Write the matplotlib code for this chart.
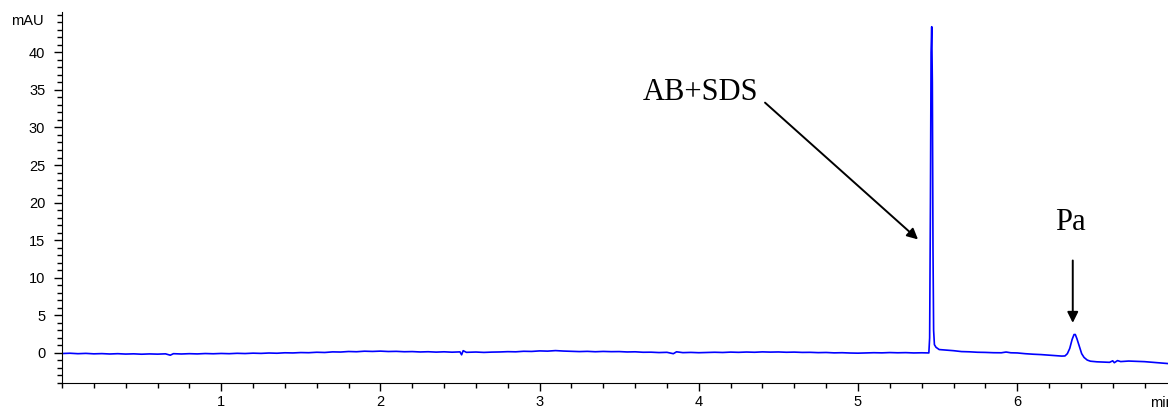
import matplotlib.pyplot as plt
from matplotlib.ticker import MultipleLocator

# chromatogram trace: time (min), absorbance (mAU)
times = [
    0.00, 0.05, 0.10, 0.15, 0.20, 0.25, 0.30, 0.35, 0.40, 0.45,
    0.50, 0.55, 0.60, 0.65, 0.68, 0.70, 0.75, 0.80, 0.85, 0.90,
    0.95, 1.00, 1.05, 1.10, 1.15, 1.20, 1.25, 1.30, 1.35, 1.40,
    1.45, 1.50, 1.55, 1.60, 1.65, 1.70, 1.75, 1.80, 1.85, 1.90,
    1.95, 2.00, 2.05, 2.10, 2.15, 2.20, 2.25, 2.30, 2.35, 2.40,
    2.45, 2.50, 2.51, 2.52, 2.54, 2.60, 2.65, 2.70, 2.75, 2.80,
    2.85, 2.90, 2.95, 3.00, 3.05, 3.10, 3.15, 3.20, 3.25, 3.30,
    3.35, 3.40, 3.45, 3.50, 3.55, 3.60, 3.65, 3.70, 3.75, 3.80,
    3.84, 3.86, 3.90, 3.95, 4.00, 4.05, 4.10, 4.15, 4.20, 4.25,
    4.30, 4.35, 4.40, 4.45, 4.50, 4.55, 4.60, 4.65, 4.70, 4.75,
    4.80, 4.85, 4.90, 4.95, 5.00, 5.05, 5.10, 5.15, 5.20, 5.25,
    5.30, 5.35, 5.40, 5.445,
    5.450, 5.455, 5.459, 5.463, 5.467, 5.471, 5.475, 5.480, 5.490, 5.51,
    5.55, 5.60, 5.65, 5.70, 5.75, 5.80, 5.85, 5.90, 5.93, 5.96,
    6.00, 6.05, 6.10, 6.15, 6.20, 6.25, 6.28, 6.30, 6.315, 6.33,
    6.345, 6.357, 6.365, 6.375, 6.39, 6.405, 6.42, 6.44, 6.46, 6.50,
    6.55, 6.58, 6.60, 6.61, 6.63, 6.65, 6.70, 6.75, 6.80, 6.85,
    6.90, 6.95, 7.00,
]
mau = [
    -0.08, -0.04, -0.10, -0.06, -0.12, -0.09, -0.14, -0.10, -0.15, -0.12,
    -0.17, -0.13, -0.16, -0.12, -0.30, -0.10, -0.14, -0.10, -0.13, -0.08,
    -0.11, -0.07, -0.10, -0.05, -0.08, -0.03, -0.06, -0.01, -0.04, 0.02,
    0.00, 0.05, 0.03, 0.09, 0.06, 0.14, 0.12, 0.19, 0.16, 0.23,
    0.20, 0.24, 0.19, 0.21, 0.16, 0.18, 0.13, 0.16, 0.11, 0.15,
    0.10, 0.14, -0.25, 0.30, 0.08, 0.12, 0.07, 0.11, 0.13, 0.17,
    0.15, 0.22, 0.20, 0.27, 0.24, 0.31, 0.25, 0.22, 0.18, 0.21,
    0.16, 0.20, 0.17, 0.18, 0.13, 0.15, 0.09, 0.10, 0.05, 0.08,
    -0.10, 0.15, 0.04, 0.07, 0.03, 0.06, 0.09, 0.06, 0.11, 0.08,
    0.12, 0.09, 0.14, 0.11, 0.13, 0.09, 0.11, 0.07, 0.08, 0.04,
    0.06, 0.01, 0.03, -0.01, -0.03, 0.00, 0.03, 0.01, 0.05, 0.02,
    0.04, 0.00, 0.02, 0.00,
    2.0, 20.0, 40.0, 43.4, 36.0, 14.0, 3.0, 1.1, 0.75, 0.45,
    0.38, 0.30, 0.18, 0.15, 0.09, 0.07, 0.03, 0.02, 0.12, 0.02,
    0.00, -0.10, -0.17, -0.22, -0.30, -0.38, -0.42, -0.40, -0.10, 0.60,
    1.80, 2.45, 2.45, 1.90, 0.90, -0.10, -0.60, -0.95, -1.10, -1.18,
    -1.22, -1.25, -1.05, -1.30, -1.02, -1.15, -1.08, -1.12, -1.16, -1.25,
    -1.33, -1.42, -1.48,
]

# peak labels: text, text anchor, arrow tail, arrow tip
peak_labels = ["AB+SDS", "Pa"]
label_xy = [(4.372, 34.6), (6.335, 17.4)]
label_ha = ["right", "center"]
arrow_tail = [(4.416, 33.3), (6.349, 12.3)]
arrow_tip = [(5.377, 15.1), (6.349, 4.0)]

fig = plt.figure(figsize=(11.68, 4.09), dpi=100)
ax = fig.add_axes([62 / 1168, 26 / 409, 1114.4 / 1168, 371.3 / 409])

ax.plot(times, mau, color="#0000ff", linewidth=1.2)

ax.set_xlim(0, 7.0)
ax.set_ylim(-4.0, 45.4)

ax.spines["top"].set_visible(False)
ax.spines["right"].set_visible(False)

ax.xaxis.set_minor_locator(MultipleLocator(0.2))
ax.yaxis.set_minor_locator(MultipleLocator(1))
ax.set_xticks([1, 2, 3, 4, 5, 6])
ax.set_yticks([0, 5, 10, 15, 20, 25, 30, 35, 40])

ax.tick_params(which="major", length=5.5, width=1, labelsize=10.5)
ax.tick_params(axis="y", which="major", pad=6.5)
ax.tick_params(axis="x", which="major", pad=3.5)
ax.tick_params(which="minor", length=3.3, width=1)
for lab in ax.get_xticklabels() + ax.get_yticklabels():
    lab.set_fontfamily("Liberation Sans")

fig.text(44 / 1168, 1 - 21 / 409, "mAU", ha="right", va="center",
         fontsize=10.5, family="Liberation Sans")
fig.text(1150 / 1168, 1 - 403 / 409, "min", ha="left", va="center",
         fontsize=10.5, family="Liberation Sans")

for name, xy, ha, tail, tip in zip(peak_labels, label_xy, label_ha,
                                   arrow_tail, arrow_tip):
    ax.text(xy[0], xy[1], name, ha=ha, va="center", fontsize=22,
            family="Liberation Serif")
    ax.annotate("", xy=tip, xytext=tail,
                arrowprops=dict(arrowstyle="-|>", color="black", lw=1.4,
                                mutation_scale=16, shrinkA=0, shrinkB=0))

fig.savefig("out.png", dpi=100)
